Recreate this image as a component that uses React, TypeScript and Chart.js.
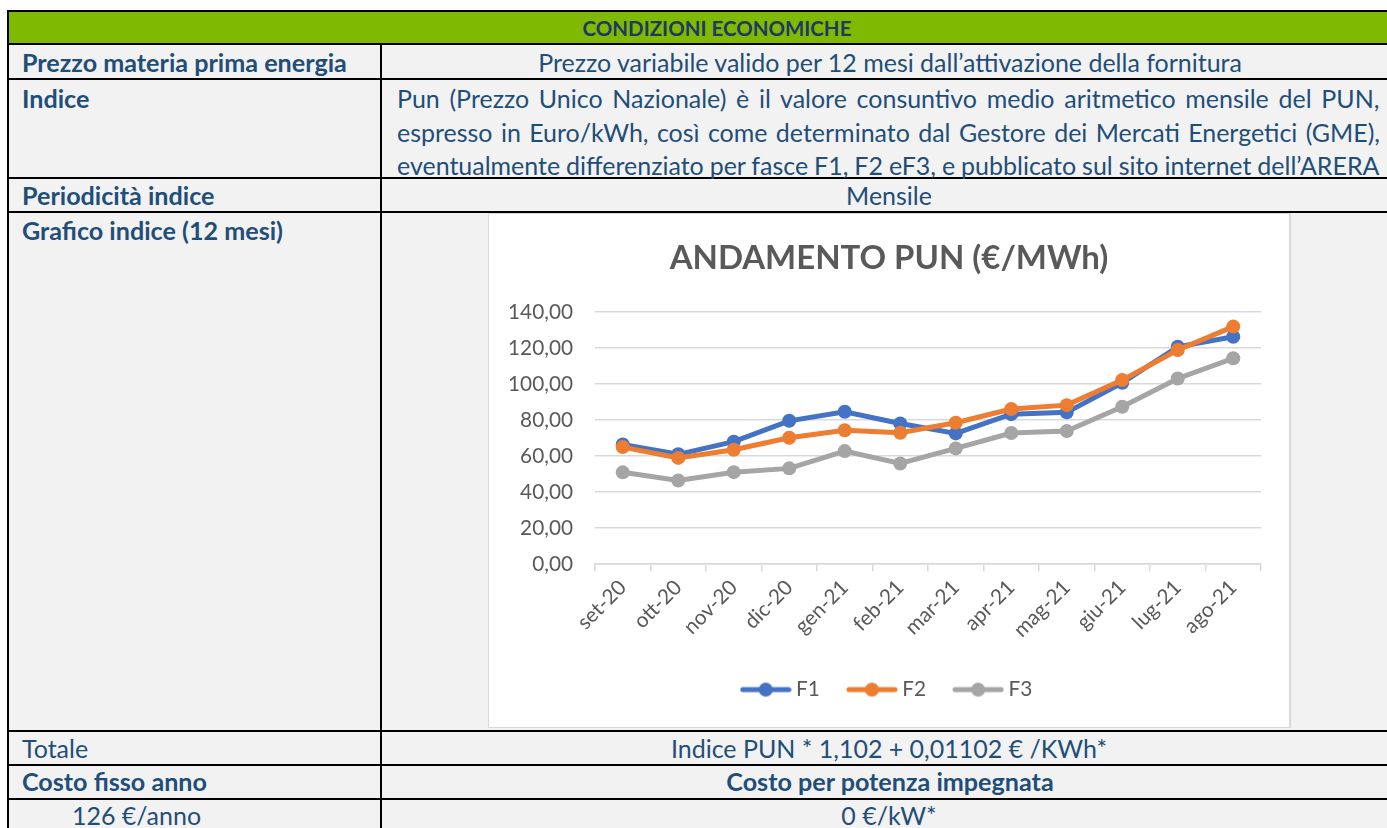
import React, { useEffect, useMemo, useRef } from "react";
import { Chart, registerables } from "chart.js";

Chart.register(...registerables);

// ---------- DATA ----------
const categories = ["set-20", "ott-20", "nov-20", "dic-20", "gen-21", "feb-21", "mar-21", "apr-21", "mag-21", "giu-21", "lug-21", "ago-21"];
const seriesF1 = [66.5, 61.0, 68.0, 79.6, 84.6, 78.1, 72.6, 83.3, 84.3, 100.7, 120.7, 126.3];
const seriesF2 = [65.0, 59.0, 63.5, 70.2, 74.4, 73.0, 78.5, 86.1, 88.3, 102.2, 118.9, 131.9];
const seriesF3 = [51.0, 46.5, 51.1, 53.2, 62.8, 55.9, 64.3, 72.8, 73.9, 87.4, 103.1, 114.3];
const seriesNames = ["F1", "F2", "F3"];
const yTickValues = [0, 20, 40, 60, 80, 100, 120, 140];
const chartTitle = "ANDAMENTO PUN (€/MWh)";

const indiceLines = [
  "Pun (Prezzo Unico Nazionale) è il valore consuntivo medio aritmetico mensile del PUN,",
  "espresso in Euro/kWh, così come determinato dal Gestore dei Mercati Energetici (GME),",
  "eventualmente differenziato per fasce F1, F2 eF3, e pubblicato sul sito internet dell’ARERA",
];

// ---------- STYLE ----------
const FONT = "Lato, 'Open Sans', sans-serif";
const TXT = "#1F4E79";
const HEAD_TXT = "#1F3864";
const GREEN = "#7FBA00";
const CELL = "#F2F2F2";
const GRAY_TXT = "#595959";
const GRID = "#D9D9D9";
const COLORS = ["#4472C4", "#ED7D31", "#A5A5A5"];

function measure(text: string, weight: string, size: number): number {
  const ctx = document.createElement("canvas").getContext("2d")!;
  ctx.font = `${weight} ${size}px ${FONT}`;
  return ctx.measureText(text).width || 1;
}
function fitSize(text: string, weight: string, target: number): number {
  return (100 * target) / measure(text, weight, 100);
}

function legendImage(color: string): HTMLCanvasElement {
  const c = document.createElement("canvas");
  c.width = 52;
  c.height = 16;
  const ctx = c.getContext("2d")!;
  ctx.strokeStyle = color;
  ctx.lineWidth = 5;
  ctx.lineCap = "round";
  ctx.beginPath();
  ctx.moveTo(3, 8);
  ctx.lineTo(49, 8);
  ctx.stroke();
  ctx.fillStyle = color;
  ctx.beginPath();
  ctx.arc(26, 8, 7, 0, Math.PI * 2);
  ctx.fill();
  return c;
}

function PunChart() {
  const ref = useRef<HTMLCanvasElement>(null);
  useEffect(() => {
    if (!ref.current) return;
    const titleSize = fitSize(chartTitle, "bold", 439);
    const tickSize = fitSize("140,00", "normal", 65);
    const padTop = 44 - 0.6 * titleSize;
    const padBottom = 98 - padTop - 1.2 * titleSize;
    const allSeries = [seriesF1, seriesF2, seriesF3];
    const orders = [2, 1, 3];
    const images = COLORS.map(legendImage);
    const chart = new Chart(ref.current, {
      type: "line",
      data: {
        labels: categories,
        datasets: allSeries.map((d, i) => ({
          label: seriesNames[i],
          data: d,
          borderColor: COLORS[i],
          backgroundColor: COLORS[i],
          borderWidth: 5,
          pointRadius: 7,
          pointBorderWidth: 0,
          pointBackgroundColor: COLORS[i],
          tension: 0,
          order: orders[i],
          yAxisID: "y",
        })),
      },
      options: {
        animation: false,
        responsive: false,
        maintainAspectRatio: false,
        devicePixelRatio: 1,
        layout: { padding: { left: 0, right: 0, top: 0, bottom: 17 } },
        plugins: {
          title: {
            display: true,
            text: chartTitle,
            color: GRAY_TXT,
            font: { family: FONT, size: titleSize, weight: "bold" },
            padding: { top: padTop, bottom: padBottom },
          },
          legend: {
            position: "bottom",
            labels: {
              usePointStyle: true,
              pointStyleWidth: 40,
              padding: 32,
              color: GRAY_TXT,
              font: { family: FONT, size: tickSize },
              generateLabels: (ch: any) =>
                ch.data.datasets.map((ds: any, i: number) => ({
                  text: ds.label,
                  pointStyle: images[i],
                  fillStyle: COLORS[i],
                  strokeStyle: COLORS[i],
                  lineWidth: 0,
                  hidden: false,
                  datasetIndex: i,
                  fontColor: GRAY_TXT,
                  rotation: 0,
                })),
            },
          },
          tooltip: { enabled: false },
        },
        scales: {
          x: {
            offset: true,
            grid: { offset: true, drawOnChartArea: false, drawTicks: true, tickLength: 7, color: GRID, lineWidth: 1.5 },
            border: { display: true, color: GRID, width: 1.5 },
            ticks: { color: GRAY_TXT, font: { family: FONT, size: tickSize }, minRotation: 45, maxRotation: 45, padding: 4, autoSkip: false },
            afterFit: (s: any) => {
              s.height = 83;
            },
          },
          y: {
            position: "left",
            min: yTickValues[0],
            max: yTickValues[yTickValues.length - 1],
            afterBuildTicks: (s: any) => {
              s.ticks = yTickValues.map((v) => ({ value: v }));
            },
            ticks: {
              color: GRAY_TXT,
              font: { family: FONT, size: tickSize },
              padding: 22,
              callback: (v: any) => Number(v).toFixed(2).replace(".", ","),
            },
            grid: { color: GRID, lineWidth: 1.5, drawTicks: false },
            border: { display: false },
            afterFit: (s: any) => {
              s.width = 106;
            },
          },
          yRight: {
            position: "right",
            display: true,
            min: 0,
            max: 1,
            grid: { display: false, drawTicks: false },
            ticks: { display: false },
            border: { display: false },
            afterFit: (s: any) => {
              s.width = 28;
            },
          },
        },
      } as any,
    });
    return () => chart.destroy();
  }, []);
  return <canvas ref={ref} width={800} height={513} style={{ display: "block" }} />;
}

function HLine({ y }: { y: number }) {
  return <div style={{ position: "absolute", left: 6.5, top: y - 1, width: 1400, height: 2, background: "#000" }} />;
}
function VLine({ x, y1, y2 }: { x: number; y1: number; y2: number }) {
  return <div style={{ position: "absolute", left: x - 1, top: y1, width: 2, height: y2 - y1, background: "#000" }} />;
}

function Txt({
  children,
  x,
  y,
  size,
  bold,
  center,
  color,
  wordSpacing,
}: {
  children: React.ReactNode;
  x: number;
  y: number;
  size: number;
  bold?: boolean;
  center?: boolean;
  color?: string;
  wordSpacing?: number;
}) {
  return (
    <div
      style={{
        position: "absolute",
        left: x,
        top: y - 16,
        height: 32,
        lineHeight: "32px",
        fontSize: size,
        fontWeight: bold ? 700 : 400,
        color: color || TXT,
        whiteSpace: "nowrap",
        wordSpacing: wordSpacing,
        transform: center ? "translateX(-50%)" : undefined,
      }}
    >
      {children}
    </div>
  );
}

export default function App() {
  const sz = useMemo(() => {
    const reg = fitSize("Prezzo variabile valido per 12 mesi dall’attivazione della fornitura", "normal", 706);
    const bold = fitSize("Prezzo materia prima energia", "bold", 325);
    const head = fitSize("CONDIZIONI ECONOMICHE", "bold", 269);
    const spacing = indiceLines.map((l) => {
      const spaces = l.split(" ").length - 1;
      return (983 - measure(l, "normal", reg)) / Math.max(spaces, 1);
    });
    return { reg, bold, head, spacing };
  }, []);
  return (
    <div
      style={{
        position: "absolute",
        left: 0,
        top: 0,
        width: 1387,
        height: 828,
        overflow: "hidden",
        background: "#fff",
        fontFamily: FONT,
      }}
    >
      {/* backgrounds */}
      <div style={{ position: "absolute", left: 7, top: 10, width: 1400, height: 34, background: GREEN }} />
      <div style={{ position: "absolute", left: 7, top: 44, width: 1400, height: 800, background: CELL }} />

      {/* lines */}
      {[10.5, 44, 78.5, 178, 212, 730.5, 764.5, 798.5].map((y) => (
        <HLine key={y} y={y} />
      ))}
      <VLine x={7.5} y1={9.5} y2={828} />
      <VLine x={381} y1={44} y2={828} />

      {/* header */}
      <Txt x={717} y={27.5} size={sz.head} bold center color={HEAD_TXT}>
        CONDIZIONI ECONOMICHE
      </Txt>

      <Txt x={22} y={61.5} size={sz.bold} bold>
        Prezzo materia prima energia
      </Txt>
      <Txt x={890} y={61.5} size={sz.reg} center>
        Prezzo variabile valido per 12 mesi dall’attivazione della fornitura
      </Txt>

      <Txt x={22} y={98} size={sz.bold} bold>
        Indice
      </Txt>
      {indiceLines.map((l, i) => (
        <Txt key={i} x={397} y={98 + i * 33.5} size={sz.reg} wordSpacing={sz.spacing[i]}>
          {l}
        </Txt>
      ))}

      <Txt x={22} y={195} size={sz.bold} bold>
        Periodicità indice
      </Txt>
      <Txt x={889} y={195} size={sz.reg} center>
        Mensile
      </Txt>

      <Txt x={22} y={230} size={sz.bold} bold>
        Grafico indice (12 mesi)
      </Txt>

      {/* chart box */}
      <div
        style={{
          position: "absolute",
          left: 488,
          top: 213,
          width: 800,
          height: 513,
          background: "#fff",
          border: `1px solid ${GRID}`,
          borderRightWidth: 2,
        }}
      >
        <PunChart />
      </div>

      <Txt x={22} y={747.5} size={sz.reg}>
        Totale
      </Txt>
      <Txt x={889} y={747.5} size={sz.reg} center>
        Indice PUN * 1,102 + 0,01102 € /KWh*
      </Txt>

      <Txt x={22} y={781} size={sz.bold} bold>
        Costo fisso anno
      </Txt>
      <Txt x={890} y={781} size={sz.bold} bold center>
        Costo per potenza impegnata
      </Txt>

      <Txt x={72} y={815} size={sz.reg}>
        126 €/anno
      </Txt>
      <Txt x={889} y={815} size={sz.reg} center>
        0 €/kW*
      </Txt>
    </div>
  );
}
